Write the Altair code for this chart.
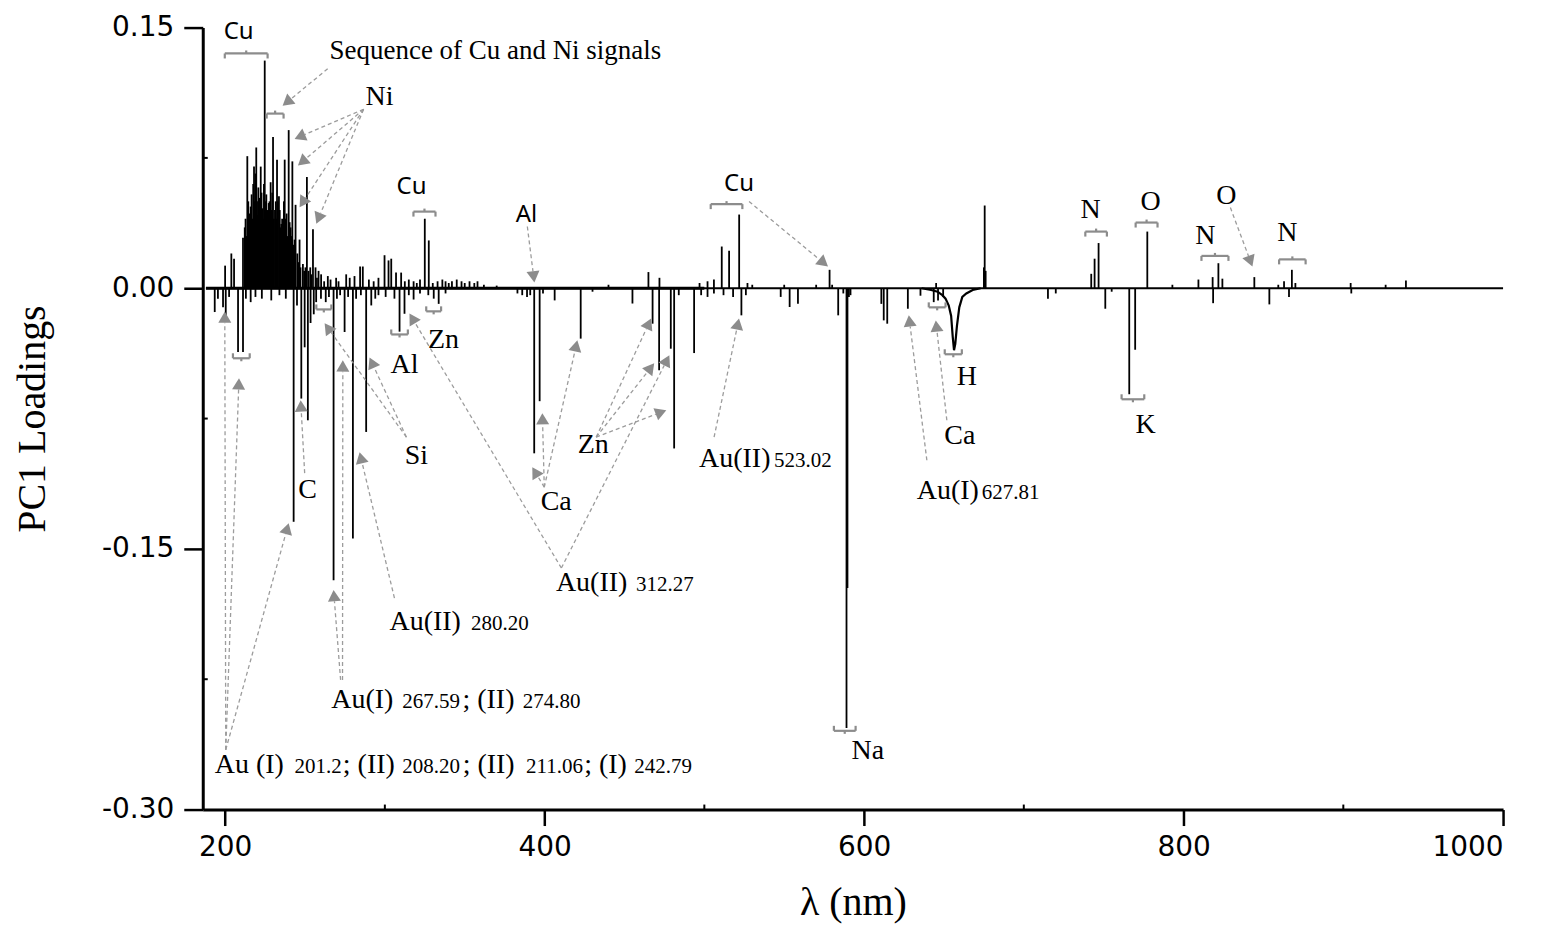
import math
import altair as alt
import pandas as pd

# ---------------- axes ----------------
X_DOMAIN = [186, 1000]
Y_DOMAIN = [-0.30, 0.15]
W, H = 1302, 783
PX_X = W / (X_DOMAIN[1] - X_DOMAIN[0])
PX_Y = H / (Y_DOMAIN[1] - Y_DOMAIN[0])

x_ticks = [200, 400, 600, 800, 1000]
x_minor = [300, 500, 700, 900]
y_ticks = [-0.30, -0.15, 0.0, 0.15]
y_minor = [-0.225, -0.075, 0.075]

# ---------------- spectrum (PC1 loadings) ----------------
# dense Cu / Ni emission region (positive loadings)
uv_wl = [200.0, 203.9, 205.6, 211.2, 212.3, 212.8, 213.4, 213.9, 214.5, 215.0, 215.4, 216.0,
         216.6, 217.1, 217.6, 218.1, 218.6, 219.0, 219.5, 220.0, 220.4, 220.8, 221.3, 221.8,
         222.3, 222.8, 223.3, 223.8, 224.3, 224.8, 225.3, 225.8, 226.3, 226.8, 227.3, 227.8,
         228.5, 229.0, 229.5, 230.0, 230.5, 231.2, 231.7, 232.0, 232.5, 233.0, 233.7, 234.2,
         234.7, 235.2, 235.7, 236.2, 236.8, 237.3, 237.8, 238.5, 239.0, 239.8, 240.4, 241.0,
         241.5, 242.1, 242.6, 243.5, 244.1, 245.2, 246.0, 246.6, 247.2, 248.7, 249.5, 250.3,
         251.2, 252.2, 253.3, 254.0, 255.0, 256.6, 257.5, 258.5, 260.1]
uv_val = [0.013, 0.020, 0.017, 0.029, 0.035, 0.040, 0.030, 0.076, 0.050, 0.038, 0.043, 0.047,
          0.054, 0.040, 0.060, 0.070, 0.050, 0.066, 0.081, 0.050, 0.042, 0.058, 0.052, 0.045,
          0.070, 0.055, 0.046, 0.040, 0.060, 0.131, 0.050, 0.054, 0.045, 0.040, 0.049, 0.050,
          0.061, 0.045, 0.055, 0.087, 0.040, 0.045, 0.050, 0.040, 0.074, 0.050, 0.053, 0.045,
          0.035, 0.037, 0.040, 0.038, 0.050, 0.074, 0.040, 0.043, 0.030, 0.091, 0.038, 0.035,
          0.030, 0.073, 0.025, 0.028, 0.048, 0.020, 0.015, 0.028, 0.012, 0.014, 0.010, 0.012,
          0.064, 0.010, 0.012, 0.008, 0.034, 0.012, 0.006, 0.010, 0.008]

# other positive peaks
pos_wl = [262.0, 264.3, 266.0, 269.5, 271.0, 275.8, 278.0, 281.0, 284.5, 286.2, 290.0, 293.0,
          296.0, 299.8, 302.3, 304.0, 307.0, 310.2, 312.5, 315.0, 318.0, 320.0, 322.0, 325.0,
          327.5, 330.0, 333.0, 336.0, 338.0, 340.0, 342.0, 345.0, 348.0, 350.0, 353.0, 356.0,
          358.0, 362.0, 370.0, 440.0, 465.0, 471.9, 497.0, 502.0, 506.0, 510.9, 515.5, 521.8,
          527.0, 530.0, 550.0, 570.0, 578.4, 580.0, 645.1, 675.0, 675.5, 676.1, 742.2, 744.3,
          746.8, 777.3, 793.0, 809.3, 818.2, 821.8, 824.3, 844.3, 859.3, 862.9, 867.8, 870.0,
          904.6, 926.5, 939.2]
pos_val = [0.004, 0.007, 0.005, 0.006, 0.004, 0.008, 0.006, 0.007, 0.0125, 0.0125, 0.005, 0.004,
           0.006, 0.019, 0.016, 0.017, 0.009, 0.009, 0.004, 0.005, 0.004, 0.003, 0.005, 0.040,
           0.0275, 0.003, 0.004, 0.005, 0.004, 0.003, 0.004, 0.005, 0.004, 0.003, 0.004, 0.003,
           0.004, 0.002, 0.0015, 0.002, 0.0093, 0.006, 0.003, 0.004, 0.005, 0.024, 0.0215, 0.0424,
           0.003, 0.002, 0.002, 0.002, 0.0106, 0.002, 0.003, 0.012, 0.0476, 0.010, 0.0083, 0.017,
           0.026, 0.0326, 0.002, 0.005, 0.0064, 0.0144, 0.0055, 0.0064, 0.002, 0.004, 0.0106, 0.003,
           0.003, 0.002, 0.0045]

# negative peaks (Au, C, Si, Al, Zn, Ca, Na, K ...)
neg_wl = [193.5, 195.5, 198.7, 200.4, 202.5, 208.1, 211.2, 213.0, 216.0, 219.0, 223.0, 228.9,
          234.0, 238.0, 242.9, 245.0, 247.7, 249.8, 251.8, 253.5, 255.5, 257.0, 260.0, 263.0,
          265.0, 267.9, 270.0, 272.0, 274.8, 277.0, 280.0, 282.0, 285.0, 288.3, 291.5, 294.0,
          296.0, 300.5, 306.0, 309.2, 312.3, 315.0, 318.0, 322.0, 327.2, 330.6, 333.7, 338.0,
          383.0, 386.0, 389.0, 391.0, 393.5, 396.9, 399.0, 406.3, 422.6, 430.0, 455.0, 467.6,
          471.7, 479.0, 481.1, 484.0, 493.6, 498.0, 502.0, 506.0, 512.0, 518.0, 523.2, 526.0,
          547.8, 553.4, 558.6, 583.8, 587.0, 589.0, 589.6, 590.5, 591.5, 610.8, 612.3, 614.5,
          627.4, 635.3, 643.6, 646.3, 649.5, 715.1, 720.0, 751.0, 755.0, 766.0, 769.7, 818.5,
          853.7, 866.0, 905.0]
neg_val = [-0.0137, -0.006, -0.0109, -0.017, -0.005, -0.0367, -0.0367, -0.006, -0.008, -0.005, -0.006, -0.007,
           -0.004, -0.006, -0.1344, -0.010, -0.0635, -0.034, -0.076, -0.020, -0.015, -0.008, -0.006, -0.008,
           -0.005, -0.168, -0.006, -0.004, -0.0252, -0.005, -0.144, -0.006, -0.004, -0.0827, -0.0099, -0.006,
           -0.004, -0.005, -0.006, -0.025, -0.0147, -0.004, -0.0065, -0.003, -0.004, -0.006, -0.009, -0.003,
           -0.003, -0.004, -0.005, -0.004, -0.095, -0.065, -0.003, -0.007, -0.029, -0.002, -0.0088, -0.0204,
           -0.0472, -0.0348, -0.0922, -0.004, -0.0373, -0.004, -0.005, -0.003, -0.004, -0.005, -0.0156, -0.004,
           -0.005, -0.0108, -0.009, -0.0156, -0.003, -0.253, -0.1725, -0.005, -0.004, -0.009, -0.0185, -0.0204,
           -0.0118, -0.0043, -0.008, -0.007, -0.005, -0.006, -0.003, -0.0118, -0.002, -0.061, -0.0354, -0.0086,
           -0.0093, -0.005, -0.003]

# broad H-alpha band
h_wl = [636, 642, 646, 649, 651, 653, 654.5, 655.5, 656.3, 657.1, 658.1, 659.6, 661.5, 664, 668, 673]
h_val = [0.0, -0.001, -0.002, -0.004, -0.006, -0.010, -0.016, -0.028, -0.0357, -0.032, -0.022,
         -0.011, -0.005, -0.003, -0.001, 0.0]

spec_start, spec_end = 188, 1000
noisy_start, noisy_end = 188, 500

# ---------------- annotations ----------------
serif_txt = ["Ni", "N", "O", "N", "O", "N", "K", "H", "Ca", "Na", "Zn", "Al", "Si", "C", "Ca", "Zn"]
serif_x = [296.7, 741.8, 779.3, 813.7, 826.8, 865.0, 776.2, 664.3, 659.9, 602.4, 336.7, 312.3, 319.8, 251.6, 407.3, 430.5]
serif_y = [0.1102, 0.0453, 0.0499, 0.0298, 0.0533, 0.0315, -0.0789, -0.0513, -0.0852, -0.2662, -0.0300,
           -0.0444, -0.0967, -0.1162, -0.1231, -0.0903]

sans_txt = ["Cu", "Cu", "Al", "Cu"]
sans_x = [208.5, 316.7, 388.6, 521.7]
sans_y = [0.1476, 0.0585, 0.0424, 0.0602]

au_txt = ["Au(II)", "Au(II)", "Au(I)", "; (II)", "Au (I)", "; (II)", "; (II)", "; (I)", "Au(II)", "Au(I)"]
au_x = [407.1, 302.9, 266.5, 348.6, 193.5, 273.7, 348.7, 424.8, 496.7, 633.0]
au_y = [-0.1743, -0.1967, -0.2415, -0.2415, -0.2789, -0.2789, -0.2789, -0.2789, -0.1030, -0.1214]

num_txt = ["312.27", "280.20", "267.59", "274.80", "201.2", "208.20", "211.06", "242.79", "523.02", "627.81"]
num_x = [457.2, 354.0, 310.9, 386.3, 243.5, 310.9, 388.4, 456.1, 543.6, 673.7]
num_y = [-0.1743, -0.1967, -0.2415, -0.2415, -0.2789, -0.2789, -0.2789, -0.2789, -0.1030, -0.1214]

seq_txt = ["Sequence of Cu and Ni signals"]
seq_x = [265.4]
seq_y = [0.1367]

# brackets: top (opening downwards) and bottom (opening upwards)
top_x1 = [199.8, 226.0, 317.9, 504.0, 738.5, 770.0, 811.2, 859.8]
top_x2 = [226.6, 236.6, 331.7, 523.8, 752.0, 783.7, 828.1, 876.4]
top_y = [0.1351, 0.1005, 0.0441, 0.0484, 0.0326, 0.0378, 0.0186, 0.0166]
bot_x1 = [204.9, 257.1, 304.0, 325.9, 640.5, 650.5, 761.2, 581.1]
bot_x2 = [215.4, 266.5, 314.4, 335.2, 651.0, 661.2, 775.4, 594.7]
bot_y = [-0.0403, -0.0122, -0.0266, -0.0133, -0.0110, -0.0380, -0.0639, -0.2547]

# arrows: start -> tip
arr_x1 = [264.2, 286.7, 286.7, 286.7, 286.7, 389.2, 528.0, 829.3, 200.4, 200.4, 200.4, 272.3, 273.5,
          306.0, 249.8, 313.5, 313.5, 410.5, 410.5, 399.8, 399.8, 399.8, 432.3, 432.3, 432.3, 506.1,
          639.3, 651.8]
arr_y1 = [0.1263, 0.1030, 0.1030, 0.1030, 0.1030, 0.0355, 0.0499, 0.0464, -0.2656, -0.2656, -0.2656,
          -0.2254, -0.2254, -0.1783, -0.1064, -0.0857, -0.0857, -0.1610, -0.1610, -0.1145, -0.1145,
          -0.1145, -0.0857, -0.0857, -0.0857, -0.0857, -0.0990, -0.0760]
arr_x2 = [236.0, 243.5, 245.6, 246.6, 257.1, 393.6, 577.4, 843.1, 199.8, 208.7, 239.8, 267.9, 273.7,
          284.2, 247.3, 290.4, 262.3, 315.4, 478.1, 392.3, 398.6, 420.5, 466.7, 468.6, 476.2, 521.7,
          628.0, 644.9]
arr_y2 = [0.1050, 0.0859, 0.0706, 0.0466, 0.0371, 0.0033, 0.0125, 0.0125, -0.0134, -0.0518, -0.1352,
          -0.1737, -0.0415, -0.0944, -0.0645, -0.0398, -0.0202, -0.0145, -0.0386, -0.1030, -0.0719,
          -0.0300, -0.0174, -0.0432, -0.0702, -0.0174, -0.0156, -0.0185]

GREY = "#8c8c8c"
ARROW_GREY = "#9c9c9c"
HEAD = 170

# ---------------- tables ----------------
peaks = pd.DataFrame({"x": uv_wl + pos_wl + neg_wl,
                      "y": uv_val + pos_val + neg_val})
peaks["y0"] = 0.0
hband = pd.DataFrame({"x": h_wl, "y": h_val})
base = pd.DataFrame({"x": [spec_start], "x2": [spec_end], "y": [0.0]})
noisy = pd.DataFrame({"x": [noisy_start], "x2": [noisy_end], "y": [0.0]})

rows, heads = [], []
half = 0.433 * math.sqrt(HEAD)
for sx, sy, tx, ty in zip(arr_x1, arr_y1, arr_x2, arr_y2):
    dxp = (tx - sx) * PX_X
    dyp = -(ty - sy) * PX_Y
    L = math.hypot(dxp, dyp)
    ux, uy = dxp / L, dyp / L
    ex, ey = tx - 2 * half * ux / PX_X, ty + 2 * half * uy / PX_Y
    rows.append({"x": sx, "y": sy, "x2": ex, "y2": ey})
    heads.append({"x": tx - half * ux / PX_X, "y": ty + half * uy / PX_Y,
                  "angle": math.degrees(math.atan2(ux, -uy)) % 360})
arrows = pd.DataFrame(rows)
heads = pd.DataFrame(heads)

top_h = pd.DataFrame({"x": top_x1, "x2": top_x2, "y": top_y})
top_e = pd.DataFrame({"x": top_x1 + top_x2, "y": top_y + top_y})
top_c = pd.DataFrame({"x": [(a + b) / 2 for a, b in zip(top_x1, top_x2)], "y": top_y})
bot_h = pd.DataFrame({"x": bot_x1, "x2": bot_x2, "y": bot_y})
bot_e = pd.DataFrame({"x": bot_x1 + bot_x2, "y": bot_y + bot_y})
bot_c = pd.DataFrame({"x": [(a + b) / 2 for a, b in zip(bot_x1, bot_x2)], "y": bot_y})

xs = alt.Scale(domain=X_DOMAIN, nice=False, zero=False)
ys = alt.Scale(domain=Y_DOMAIN, nice=False, zero=False)

x_axis = alt.Axis(values=x_ticks, format="d", grid=False, title="λ (nm)",
                  domainWidth=3, domainColor="black", tickColor="black", tickWidth=2.5,
                  tickSize=16, labelFont="DejaVu Sans", labelFontSize=28, labelColor="black",
                  labelPadding=8, titleFont="Liberation Serif", titleFontSize=40,
                  titleFontWeight="normal", titleColor="black", titleBaseline="alphabetic",
                  titleY=105)
y_axis = alt.Axis(values=y_ticks, grid=False, title="PC1 Loadings",
                  labelExpr="datum.value < 0 ? '-' + format(-datum.value, '.2f') : format(datum.value, '.2f')",
                  domainWidth=3, domainColor="black", tickColor="black", tickWidth=2.5,
                  tickSize=19, labelFont="DejaVu Sans", labelFontSize=28, labelColor="black",
                  labelPadding=10, titleFont="Liberation Serif", titleFontSize=40,
                  titleFontWeight="normal", titleColor="black", titleAngle=270,
                  titleBaseline="alphabetic", titleX=-158)


def X(f="x"):
    return alt.X(f + ":Q", scale=xs, axis=x_axis)


def Y(f="y"):
    return alt.Y(f + ":Q", scale=ys, axis=y_axis)


baseline = alt.Chart(base).mark_rule(color="black", strokeWidth=2.2).encode(
    x=X("x"), x2="x2:Q", y=Y("y"))
noisy_base = alt.Chart(noisy).mark_rule(color="black", strokeWidth=3.2).encode(
    x=X("x"), x2="x2:Q", y=Y("y"))
peak_rules = alt.Chart(peaks).mark_rule(color="black", strokeWidth=1.8).encode(
    x=X(), y=Y(), y2="y0:Q")
h_line = alt.Chart(hband).mark_line(color="black", strokeWidth=2.2).encode(x=X(), y=Y())

xminor = alt.Chart(pd.DataFrame({"x": x_minor})).mark_rule(color="black", strokeWidth=2).encode(
    x=X(), y=alt.value(H), y2=alt.value(H - 5))
yminor = alt.Chart(pd.DataFrame({"y": y_minor})).mark_rule(color="black", strokeWidth=2).encode(
    y=Y(), x=alt.value(0), x2=alt.value(5))

bk = dict(color=GREY, strokeWidth=2.2)
br_layers = [
    alt.Chart(top_h).mark_rule(**bk).encode(x=X(), x2="x2:Q", y=Y()),
    alt.Chart(top_e).mark_rule(y2Offset=5, **bk).encode(x=X(), y=Y(), y2="y:Q"),
    alt.Chart(top_c).mark_rule(y2Offset=-3, **bk).encode(x=X(), y=Y(), y2="y:Q"),
    alt.Chart(bot_h).mark_rule(**bk).encode(x=X(), x2="x2:Q", y=Y()),
    alt.Chart(bot_e).mark_rule(y2Offset=-5, **bk).encode(x=X(), y=Y(), y2="y:Q"),
    alt.Chart(bot_c).mark_rule(y2Offset=3, **bk).encode(x=X(), y=Y(), y2="y:Q"),
]

arrow_lines = alt.Chart(arrows).mark_rule(color=ARROW_GREY, strokeWidth=1.3, strokeDash=[4, 3]).encode(
    x=X(), y=Y(), x2="x2:Q", y2="y2:Q")
arrow_heads = alt.Chart(heads).mark_point(shape="triangle-up", filled=True, size=HEAD,
                                          color=GREY, opacity=1).encode(
    x=X(), y=Y(), angle=alt.Angle("angle:Q", scale=None))

t_serif = alt.Chart(pd.DataFrame({"x": serif_x, "y": serif_y, "t": serif_txt})).mark_text(
    font="Liberation Serif", fontSize=28, align="center", baseline="middle", color="black").encode(
    x=X(), y=Y(), text="t:N")
t_sans = alt.Chart(pd.DataFrame({"x": sans_x, "y": sans_y, "t": sans_txt})).mark_text(
    font="Noto Sans", fontSize=24, align="center", baseline="middle", color="black").encode(
    x=X(), y=Y(), text="t:N")
t_au = alt.Chart(pd.DataFrame({"x": au_x, "y": au_y, "t": au_txt})).mark_text(
    font="Liberation Serif", fontSize=28, align="left", baseline="alphabetic", color="black").encode(
    x=X(), y=Y(), text="t:N")
t_num = alt.Chart(pd.DataFrame({"x": num_x, "y": num_y, "t": num_txt})).mark_text(
    font="Liberation Serif", fontSize=21, align="left", baseline="alphabetic", color="black").encode(
    x=X(), y=Y(), text="t:N")
t_seq = alt.Chart(pd.DataFrame({"x": seq_x, "y": seq_y, "t": seq_txt})).mark_text(
    font="Liberation Serif", fontSize=27, align="left", baseline="middle", color="black").encode(
    x=X(), y=Y(), text="t:N")

chart = alt.layer(
    baseline, noisy_base, peak_rules, h_line, xminor, yminor, *br_layers, arrow_lines, arrow_heads,
    t_serif, t_sans, t_au, t_num, t_seq
).properties(
    width=W, height=H,
    background="white",
    autosize=alt.AutoSizeParams(type="none"),
    padding={"left": 195, "top": 19, "right": 40, "bottom": 116},
).configure_view(stroke="transparent", strokeWidth=0)

chart.save("out.html", embed_options={"renderer": "svg", "actions": False})
